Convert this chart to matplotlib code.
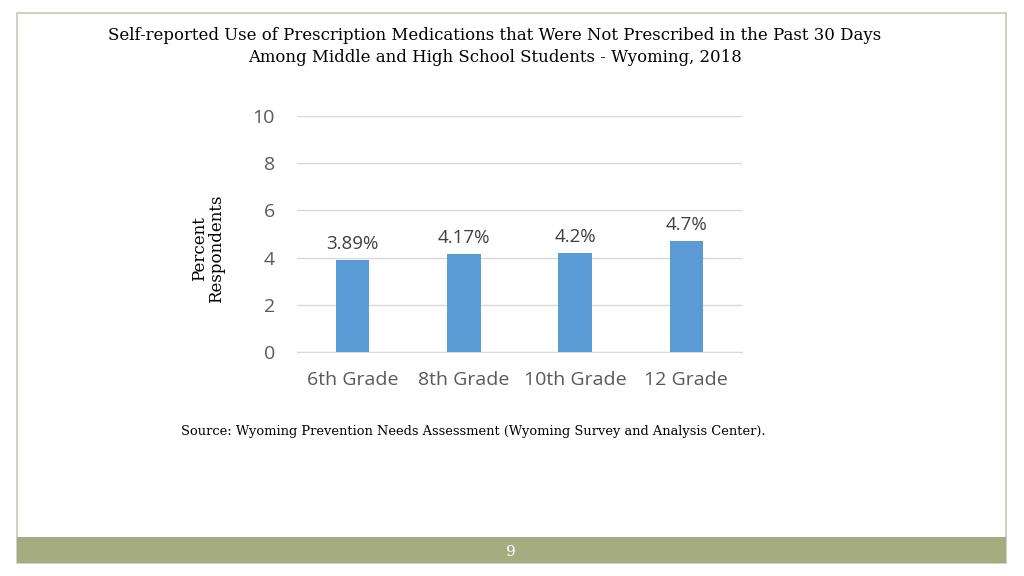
import matplotlib.pyplot as plt
from matplotlib.patches import Rectangle

grades = ["6th Grade", "8th Grade", "10th Grade", "12 Grade"]
percents = [3.89, 4.17, 4.2, 4.7]
value_labels = ["3.89%", "4.17%", "4.2%", "4.7%"]
yticks = [0, 2, 4, 6, 8, 10]

W, H = 1024, 576
fig = plt.figure(figsize=(W / 100, H / 100), dpi=100)
fig.patch.set_facecolor("white")

# slide frame and footer band
fig.add_artist(Rectangle((17 / W, 1 - 563 / H), 989 / W, 550 / H, transform=fig.transFigure,
                         facecolor="none", edgecolor="#C9C9B9", linewidth=1.2))
fig.add_artist(Rectangle((17 / W, 1 - 563 / H), 989 / W, 26 / H, transform=fig.transFigure,
                         facecolor="#A5AC80", edgecolor="none"))
fig.text(511 / W, 1 - 552 / H, "9", color="white", fontsize=11, ha="center", va="center",
         family="DejaVu Serif")

serif = ["DejaVu Serif"]
fig.text(495 / W, 1 - 35 / H, "Self-reported Use of Prescription Medications that Were Not Prescribed in the Past 30 Days",
         ha="center", va="center", fontsize=11.9, family=serif)
fig.text(495 / W, 1 - 58 / H, "Among Middle and High School Students - Wyoming, 2018",
         ha="center", va="center", fontsize=11.9, family=serif)
fig.text(181 / W, 1 - 432 / H,
         "Source: Wyoming Prevention Needs Assessment (Wyoming Survey and Analysis Center).",
         ha="left", va="center", fontsize=9.35, family=serif)
fig.text(208 / W, 1 - 249 / H, "Percent\nRespondents", rotation=90, ha="center", va="center",
         fontsize=12, family=serif, linespacing=1.05)

ax = fig.add_axes([297 / W, 1 - 352 / H, 445 / W, 236 / H])
x = range(len(grades))
ax.bar(x, percents, width=0.3, color="#5B9BD5", zorder=3)
for xi, v, lab in zip(x, percents, value_labels):
    ax.text(xi, v + 0.3, lab, ha="center", va="bottom", fontsize=13.5, color="#404040",
            family="Open Sans")

ax.set_xlim(-0.5, len(grades) - 0.5)
ax.set_ylim(0, 10)
ax.set_yticks(yticks)
ax.set_xticks(list(x))
ax.set_xticklabels(grades)
ax.grid(axis="y", color="#D9D9D9", linewidth=1, zorder=0)
ax.tick_params(length=0, labelsize=14, labelcolor="#595959")
for lbl in ax.get_xticklabels() + ax.get_yticklabels():
    lbl.set_family("Open Sans")
ax.tick_params(axis="x", pad=14)
ax.tick_params(axis="y", pad=16)
for s in ["top", "right", "left"]:
    ax.spines[s].set_visible(False)
ax.spines["bottom"].set_color("#D9D9D9")

fig.savefig("out.png", dpi=100)
